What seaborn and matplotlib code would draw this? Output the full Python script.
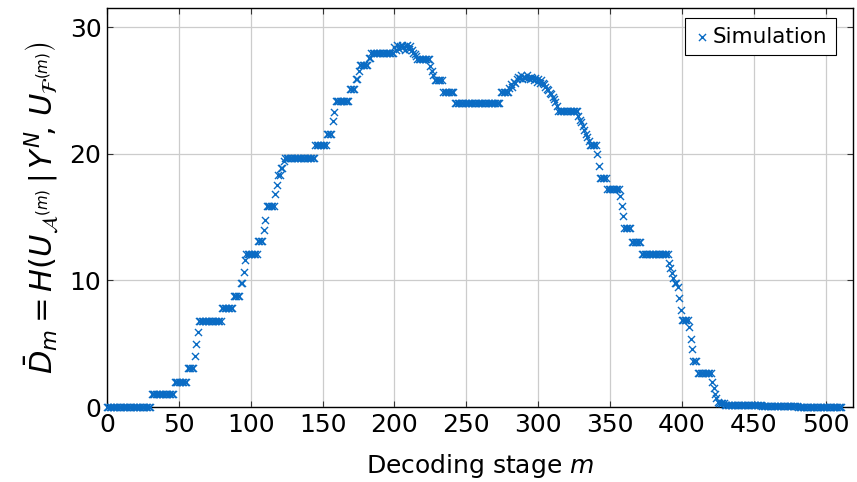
import numpy as np
import pandas as pd
import matplotlib
matplotlib.use("Agg")
import matplotlib.pyplot as plt
import seaborn as sns

# plateau levels of D_m and how many consecutive stages m sit on each level
levels = [
    0.0, 1.0, 2.0, 3.05, 4.0, 5.0, 5.9, 6.8, 7.8, 8.8, 9.8, 10.7, 11.6, 12.1, 13.1,
    14.0, 14.8, 15.9, 16.8, 17.5, 18.3, 18.9, 19.4, 19.7, 20.7, 21.6, 22.6, 23.3,
    24.2, 25.1, 25.9, 26.5, 27.0, 27.6, 28.0,
    28.4, 28.2, 28.6, 28.3, 28.5, 28.6, 28.4, 28.2, 28.5, 28.6, 28.3, 28.5, 28.2, 28.0, 27.9, 27.7,
    27.5, 26.9, 26.5, 26.2, 25.8, 24.9, 24.0, 24.9,
    25.2, 25.5, 25.3, 25.7, 25.6, 25.9,
    26.1, 26.0, 26.2, 25.9, 26.1, 26.0, 26.2, 26.0, 25.9, 26.1, 26.0, 25.8, 26.0, 25.7, 25.9, 25.6,
    25.8, 25.6, 25.5, 25.3, 25.1, 25.0, 24.8, 24.7, 24.5, 24.3, 24.1, 23.8,
    23.4, 23.0, 22.7, 22.5, 22.2, 21.9, 21.6, 21.3, 21.0,
    20.7, 20.0, 19.0, 18.1, 17.2, 16.7, 15.9, 15.1, 14.1, 13.0, 12.1,
    11.4, 11.0, 10.6, 10.2, 9.8, 9.5, 8.6, 7.7, 6.9, 6.3, 5.4, 4.6, 3.6, 2.7,
    2.0, 1.5, 1.0, 0.7, 0.4, 0.3, 0.15, 0.05, 0.0,
]
counts = [
    31, 16, 9, 5, 1, 1, 1, 16, 8, 5, 2, 1, 1, 8, 4,
    1, 1, 6, 1, 1, 2, 2, 1, 21, 8, 4, 1, 1,
    10, 4, 2, 1, 6, 2, 16,
    1, 1, 1, 1, 1, 1, 1, 1, 1, 1, 1, 1, 1, 1, 1, 1,
    9, 1, 1, 1, 6, 8, 32, 6,
    1, 1, 1, 1, 1, 1,
    1, 1, 1, 1, 1, 1, 1, 1, 1, 1, 1, 1, 1, 1, 1, 1,
    1, 1, 1, 1, 1, 1, 1, 1, 1, 1, 1, 1,
    14, 1, 1, 1, 1, 1, 1, 1, 1,
    5, 1, 1, 5, 9, 1, 1, 1, 5, 7, 19,
    1, 1, 1, 1, 2, 1, 1, 1, 5, 1, 1, 1, 3, 10,
    1, 1, 1, 1, 1, 4, 26, 25, 31,
]

x_ticks = [0, 50, 100, 150, 200, 250, 300, 350, 400, 450, 500]
y_ticks = [0, 10, 20, 30]

D = np.repeat(levels, counts)
m = np.arange(len(D))
df = pd.DataFrame({"m": m, "D": D})

sns.set_style("whitegrid")
plt.rcParams["font.family"] = ["DejaVu Sans"]
plt.rcParams["mathtext.fontset"] = "dejavusans"
plt.rcParams["text.color"] = "black"
plt.rcParams["axes.labelcolor"] = "black"

fig = plt.figure(figsize=(8.57, 4.82), dpi=100)
ax = fig.add_axes([0.1249, 0.1556, 0.8704, 0.8274])

blue = "#0b6cc4"
sns.scatterplot(data=df, x="m", y="D", marker="x", color=blue, s=26,
                linewidth=1.0, ax=ax, label="Simulation", clip_on=False, zorder=3)

ax.set_xlim(0, 519)
ax.set_ylim(0, 31.5)
ax.set_xticks(x_ticks)
ax.set_yticks(y_ticks)
ax.tick_params(axis="both", labelsize=18, direction="in", length=4,
               color="#333333", labelcolor="black", pad=4,
               top=True, right=True, bottom=True, left=True)
ax.grid(True, color="#cccccc", linewidth=0.9)
for s in ax.spines.values():
    s.set_color("black")
    s.set_linewidth(1.0)

ax.set_xlabel(r"Decoding stage $m$", fontsize=18, labelpad=11)
ax.set_ylabel(r"$\bar{D}_m = H\left(U_{\mathcal{A}^{(m)}}\,\right|\left.\,Y^N\!,\, U_{\mathcal{F}^{(m)}}\right)$",
              fontsize=22, labelpad=6)

leg = ax.legend(loc="upper right", fontsize=15.5, frameon=True, fancybox=False,
                edgecolor="black", framealpha=1, handletextpad=0.1,
                borderpad=0.4, handlelength=0.8, markerscale=1.0,
                borderaxespad=0, bbox_to_anchor=(0.977, 0.975))
leg.get_frame().set_linewidth(0.8)

fig.savefig("out.png", dpi=100)
